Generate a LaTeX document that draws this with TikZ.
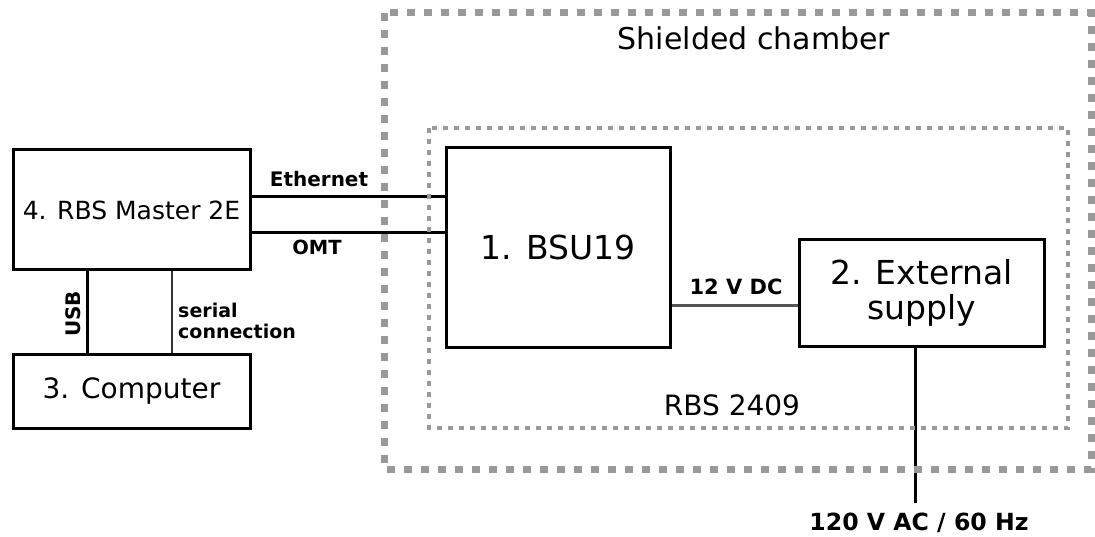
\documentclass[tikz,border=0pt]{standalone}
\usepackage{fontspec}
\setmainfont{DejaVu Sans}
\definecolor{dotgray}{HTML}{999999}
\definecolor{linegray}{HTML}{555555}
\begin{document}
\begin{tikzpicture}[x=1pt,y=-1pt,
  box/.style={draw=black,line width=3pt,rectangle,inner sep=0pt,align=center},
  conn/.style={line width=3pt,draw=black},
  lbl/.style={font=\bfseries\fontsize{20}{24}\selectfont,inner sep=0pt,anchor=base},
  outerwall/.style={draw=dotgray,line width=7pt,dash pattern=on 8pt off 9pt},
  innerwall/.style={draw=dotgray,line width=4pt,dash pattern=on 5pt off 6pt},
  plain/.style={inner sep=0pt,anchor=base}
]
\useasboundingbox (0,0) rectangle (1095,537);

% boxes
\node[box,minimum width=237pt,minimum height=120pt,font=\fontsize{25}{29}\selectfont] (master) at (131.5,210) {4. RBS Master 2E};
\node[box,minimum width=237pt,minimum height=74pt,font=\fontsize{28}{32}\selectfont] (computer) at (131.5,391) {3. Computer};
\node[box,minimum width=224pt,minimum height=199pt,font=\fontsize{33}{37}\selectfont] (bsu) at (558,247.5) {1. BSU19};
\node[box,minimum width=245pt,minimum height=106pt,font=\fontsize{33}{35}\selectfont] (supply) at (921.5,293) {2. External\\supply};
\coordinate (mains) at (915,503);

% connectors
\draw[conn] (master.east |- 0,197) -- (bsu.west |- 0,197);
\draw[conn] (master.east |- 0,233) -- (bsu.west |- 0,233);
\draw[conn] (master.south -| 87,0) -- (computer.north -| 87,0);
\draw[line width=2pt,draw=black!80] (master.south -| 172,0) -- (computer.north -| 172,0);
\draw[line width=3pt,draw=linegray] (bsu.east |- 0,306) -- (supply.west |- 0,306);
\draw[conn] (supply.south -| mains) -- (mains);

% labels
\node[lbl] (eth) at (319,187) {Ethernet};
\node[lbl,font=\bfseries\fontsize{19.5}{24}\selectfont] (omt) at (317,255) {OMT};
\node[lbl,rotate=90] (usb) at (80,314) {USB};
\node[plain,anchor=base west,font=\bfseries\fontsize{19}{21}\selectfont] (ser1) at (178,318) {serial};
\node[plain,anchor=base west,font=\bfseries\fontsize{19}{21}\selectfont] (ser2) at (178,338) {connection};
\node[lbl,font=\bfseries\fontsize{21}{24}\selectfont] (dc) at (736,295) {12 V DC};
\node[lbl,font=\bfseries\fontsize{23.6}{26}\selectfont] (ac) at (919,530) {120 V AC / 60 Hz};

% enclosures
\draw[innerwall] (429,128) rectangle (1068,428);
\draw[outerwall] (384,13) rectangle (1091,469);
\node[plain,font=\fontsize{30}{34}\selectfont] (chamber) at (754,50) {Shielded chamber};
\node[plain,font=\fontsize{28}{32}\selectfont] (rbs) at (732,415) {RBS 2409};
\end{tikzpicture}
\end{document}
